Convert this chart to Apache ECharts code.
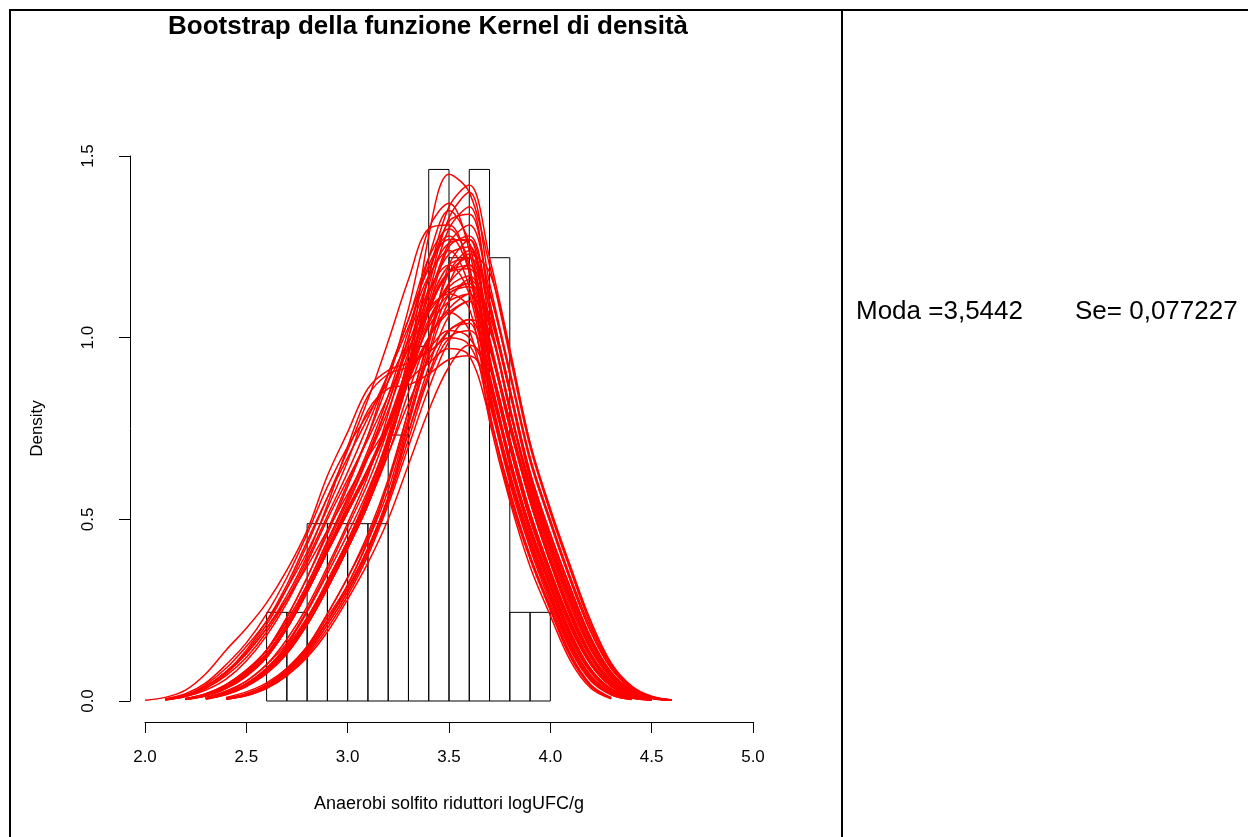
<!DOCTYPE html>
<html>
<head>
<meta charset="utf-8">
<script src="https://cdn.jsdelivr.net/npm/echarts@6/dist/echarts.min.js"></script>
<style>
  html, body { margin: 0; padding: 0; background: #fff; }
  #chart { width: 1248px; height: 837px; }
</style>
</head>
<body>
<div id="chart"></div>
<script>
// histogram: bin starts (width 0.1) and densities
const binStarts = [2.6, 2.7, 2.8, 2.9, 3.0, 3.1, 3.2, 3.3, 3.4, 3.5, 3.6, 3.7, 3.8, 3.9];
const binWidth = 0.1;
const densities = [0.244, 0.244, 0.488, 0.488, 0.488, 0.488, 0.732, 0.976, 1.463, 1.22, 1.463, 1.22, 0.244, 0.244];

// x positions where the bootstrap curves are read
const gridX = [2.0, 2.1, 2.2, 2.3, 2.4, 2.5, 2.6, 2.7, 2.8, 2.9, 3.0, 3.1, 3.2, 3.3,
  3.4, 3.5, 3.6, 3.7, 3.8, 3.9, 4.0, 4.1, 4.2, 4.3, 4.4, 4.5, 4.6];

// bootstrap kernel density curves (null = not drawn)
const bootCurves = [
  [null,null,0.005,0.015,0.035,0.07,0.12,0.2,0.3,0.42,0.52,0.63,0.76,0.92,1.08, 1.18,1.19, 0.98,0.76,0.55,0.385,0.24,0.125,0.054,0.02,0.006,null],
  [null,null,null,0.008,0.022,0.045,0.085,0.14,0.22,0.32,0.43,0.55,0.7,0.89,1.08, 1.25,1.28, 1.08,0.85,0.62,0.45,0.3,0.17,0.077,0.03,0.009,0.002],
  [null,0.004,0.015,0.04,0.08,0.14,0.22,0.32,0.44,0.56,0.67,0.78,0.9,1.03,1.17, 1.24,1.14, 0.88,0.66,0.47,0.32,0.18,0.083,0.031,0.01,0.003,null],
  [null,null,null,0.008,0.022,0.045,0.085,0.14,0.22,0.33,0.44,0.57,0.73,0.95,1.17, 1.32,1.34, 1.1,0.86,0.62,0.44,0.29,0.16,0.072,0.028,0.008,0.002],
  [null,null,null,0.005,0.018,0.04,0.08,0.14,0.22,0.32,0.43,0.55,0.7,0.92,1.28, 1.45,1.4, 1.2,0.95,0.7,0.52,0.36,0.21,0.1,0.04,0.012,0.003],
  [null,null,0.006,0.017,0.04,0.08,0.14,0.23,0.34,0.47,0.6,0.73,0.88,1.08,1.3, 1.37,1.24, 0.93,0.7,0.5,0.34,0.2,0.1,0.04,0.013,0.003,null],
  [0.002,0.01,0.03,0.075,0.14,0.2,0.27,0.36,0.47,0.62,0.74,0.86,0.91,0.93,0.96, 1.0,0.98, 0.83,0.61,0.43,0.284,0.15,0.061,0.02,0.005,null,null],
  [null,0.003,0.015,0.045,0.09,0.15,0.22,0.31,0.41,0.53,0.66,0.8,0.86,0.87,0.9, 0.94,0.95, 0.87,0.65,0.46,0.31,0.17,0.078,0.028,0.008,0.002,null],
  [null,null,null,null,0.006,0.018,0.04,0.08,0.14,0.22,0.31,0.42,0.56,0.74,0.92, 1.06,1.1, 0.93,0.71,0.51,0.35,0.21,0.104,0.043,0.015,0.004,null],
  [null,null,null,null,0.005,0.015,0.035,0.07,0.12,0.19,0.28,0.38,0.5,0.65,0.8, 0.92,0.98, 0.92,0.72,0.52,0.36,0.215,0.108,0.045,0.016,0.004,null],
  [null,null,0.006,0.02,0.045,0.085,0.14,0.22,0.32,0.44,0.56,0.69,0.84,1.02,1.2, 1.28,1.18, 0.84,0.6,0.42,0.27,0.14,0.055,0.017,0.004,null,null],
  [null,0.004,0.012,0.03,0.06,0.11,0.18,0.27,0.38,0.5,0.61,0.72,0.84,0.97,1.07, 1.13,1.15, 1.03,0.8,0.59,0.42,0.27,0.146,0.066,0.025,0.008,0.002],
  [null,null,null,0.01,0.028,0.055,0.1,0.16,0.25,0.36,0.48,0.6,0.75,0.93,1.09, 1.2,1.22, 0.99,0.77,0.56,0.39,0.245,0.13,0.057,0.021,0.006,null],
  [null,null,null,0.007,0.02,0.042,0.08,0.13,0.21,0.31,0.42,0.54,0.7,0.9,1.1, 1.26,1.31, 1.13,0.9,0.66,0.49,0.33,0.19,0.089,0.035,0.011,0.003],
  [null,null,0.005,0.016,0.037,0.072,0.125,0.2,0.3,0.41,0.52,0.63,0.76,0.91,1.05, 1.14,1.17, 1.04,0.81,0.59,0.43,0.28,0.15,0.068,0.026,0.008,0.002],
  [null,null,null,null,0.007,0.02,0.045,0.09,0.15,0.24,0.34,0.46,0.61,0.8,1.0, 1.18,1.24, 1.08,0.86,0.63,0.46,0.31,0.175,0.08,0.031,0.009,0.002],
  [null,null,0.006,0.018,0.042,0.08,0.14,0.23,0.34,0.46,0.59,0.73,0.9,1.05,1.22, 1.3,1.2, 0.8,0.58,0.4,0.26,0.13,0.045,0.01,null,null,null],
  [null,null,0.005,0.015,0.035,0.07,0.125,0.2,0.3,0.41,0.52,0.63,0.75,0.88,1.0, 1.07,1.1, 0.97,0.75,0.55,0.38,0.235,0.12,0.052,0.019,0.005,null],
  [null,null,null,0.006,0.018,0.04,0.075,0.13,0.21,0.31,0.42,0.54,0.7,0.9,1.14, 1.33,1.4, 1.15,0.91,0.67,0.49,0.33,0.19,0.09,0.036,0.011,0.003],
  [null,null,null,0.008,0.024,0.048,0.09,0.15,0.23,0.33,0.44,0.55,0.68,0.82,0.94, 1.02,1.05, 0.89,0.67,0.48,0.33,0.19,0.088,0.034,0.011,0.003,null],
  [null,null,null,0.008,0.025,0.055,0.1,0.17,0.26,0.37,0.49,0.62,0.79,1.0,1.22, 1.35,1.26, 0.94,0.7,0.5,0.345,0.205,0.1,0.041,0.014,0.004,null],
  [null,0.006,0.02,0.05,0.1,0.16,0.24,0.34,0.46,0.59,0.7,0.79,0.88,0.99,1.08, 1.12,1.08, 0.82,0.62,0.44,0.29,0.155,0.065,0.022,0.005,null,null],
  [null,null,null,null,0.01,0.025,0.05,0.09,0.15,0.24,0.34,0.45,0.6,0.8,0.99, 1.15,1.23, 1.18,0.96,0.71,0.53,0.37,0.22,0.105,0.042,0.013,0.003],
  [null,null,0.004,0.014,0.034,0.068,0.12,0.2,0.3,0.42,0.54,0.67,0.82,1.0,1.16, 1.26,1.27, 1.05,0.81,0.58,0.41,0.26,0.14,0.063,0.024,0.007,0.002],
  [null,0.004,0.015,0.04,0.08,0.13,0.2,0.28,0.37,0.47,0.57,0.67,0.76,0.88,0.93, 0.97,0.95, 0.78,0.56,0.39,0.25,0.12,0.04,0.008,null,null,null],
  [null,null,0.007,0.02,0.045,0.085,0.14,0.22,0.32,0.44,0.56,0.68,0.82,0.98,1.13, 1.2,1.12, 0.85,0.62,0.43,0.28,0.145,0.058,0.018,0.004,null,null],
  [null,null,null,0.007,0.02,0.042,0.08,0.135,0.21,0.31,0.42,0.54,0.7,0.9,1.12, 1.3,1.36, 1.1,0.85,0.61,0.44,0.29,0.165,0.075,0.029,0.008,0.002],
  [null,null,null,null,0.006,0.018,0.04,0.08,0.14,0.22,0.31,0.42,0.56,0.74,0.9, 1.02,1.04, 0.77,0.55,0.37,0.235,0.11,0.035,0.006,null,null,null],
  [null,null,0.006,0.018,0.04,0.075,0.13,0.21,0.31,0.43,0.55,0.67,0.8,0.96,1.12, 1.23,1.25, 1.0,0.77,0.56,0.39,0.24,0.125,0.055,0.02,0.006,null],
  [null,0.003,0.012,0.035,0.075,0.13,0.2,0.29,0.4,0.54,0.7,0.84,0.9,0.92,0.97, 1.02,1.0, 0.88,0.65,0.47,0.315,0.175,0.08,0.03,0.009,0.002,null],
  [null,null,null,null,0.006,0.018,0.04,0.078,0.135,0.21,0.3,0.41,0.56,0.76,0.96, 1.12,1.14, 0.9,0.67,0.47,0.32,0.18,0.085,0.032,0.01,0.003,null],
  [null,0.004,0.014,0.035,0.07,0.12,0.19,0.28,0.39,0.51,0.63,0.76,0.9,1.05,1.19, 1.27,1.26, 0.99,0.76,0.55,0.38,0.23,0.118,0.05,0.018,0.005,null],
  [null,null,0.005,0.016,0.038,0.075,0.13,0.21,0.31,0.42,0.53,0.64,0.76,0.89,1.0, 1.07,1.02, 0.79,0.57,0.4,0.255,0.125,0.042,0.008,null,null,null],
  [null,null,null,0.006,0.02,0.045,0.085,0.14,0.22,0.33,0.44,0.57,0.72,0.92,1.17, 1.36,1.42, 1.22,0.97,0.71,0.52,0.36,0.21,0.1,0.04,0.012,0.003],
  [null,null,null,0.008,0.022,0.045,0.085,0.14,0.22,0.32,0.43,0.55,0.7,0.88,1.04, 1.12,1.15, 0.94,0.72,0.52,0.36,0.22,0.11,0.047,0.016,0.004,null],
  [null,null,0.005,0.016,0.038,0.075,0.13,0.21,0.31,0.42,0.53,0.64,0.77,0.93,1.08, 1.18,1.22, 1.12,0.9,0.67,0.5,0.34,0.2,0.094,0.037,0.011,0.003],
  [null,null,null,null,0.005,0.015,0.035,0.07,0.125,0.2,0.29,0.4,0.54,0.7,0.86, 0.99,1.05, 1.02,0.8,0.6,0.43,0.28,0.152,0.07,0.027,0.008,0.002],
  [null,0.005,0.016,0.04,0.08,0.135,0.21,0.31,0.43,0.56,0.69,0.83,0.99,1.16,1.3, 1.31,1.18, 0.84,0.61,0.44,0.295,0.16,0.068,0.024,0.006,null,null],
  [null,null,null,0.007,0.022,0.048,0.09,0.155,0.245,0.35,0.46,0.58,0.72,0.88,1.04, 1.15,1.2, 1.04,0.8,0.58,0.42,0.27,0.145,0.065,0.025,0.008,0.002],
  [null,null,0.005,0.015,0.036,0.07,0.125,0.2,0.3,0.41,0.52,0.63,0.76,0.9,1.03, 1.1,1.12, 0.87,0.66,0.48,0.33,0.185,0.086,0.033,0.011,0.003,null],
  [null,null,null,null,0.007,0.02,0.044,0.085,0.145,0.23,0.32,0.44,0.58,0.77,0.95, 1.1,1.16, 1.06,0.85,0.63,0.46,0.31,0.172,0.079,0.031,0.009,0.002],
  [null,null,null,0.007,0.021,0.044,0.082,0.135,0.21,0.31,0.42,0.54,0.68,0.85,1.0, 1.08,1.12, 0.98,0.77,0.57,0.4,0.25,0.13,0.058,0.022,0.006,null],
  [null,null,null,null,0.006,0.018,0.04,0.08,0.14,0.22,0.32,0.44,0.6,0.78,0.98, 1.2,1.27, 0.95,0.72,0.51,0.35,0.205,0.1,0.04,0.013,0.003,null],
  [null,null,null,0.008,0.023,0.047,0.088,0.145,0.225,0.33,0.44,0.56,0.71,0.89,1.07, 1.18,1.2, 0.86,0.63,0.45,0.3,0.162,0.07,0.025,0.006,null,null],
  [null,null,null,null,0.005,0.016,0.037,0.075,0.13,0.21,0.3,0.41,0.55,0.72,0.89, 1.0,1.02, 0.92,0.7,0.5,0.35,0.21,0.106,0.044,0.015,0.004,null]
];

const xTicks = [2.0, 5.0, 0.5];   // min, max, step
const yTicks = [0.0, 1.5, 0.5];

const chart = echarts.init(document.getElementById('chart'));

const font = 'Liberation Sans, Arial, sans-serif';

const curveSeries = bootCurves.map(c => ({
  type: 'line',
  data: gridX.map((x, i) => [x, c[i]]).filter(p => p[1] !== null),
  smooth: 0.35,
  showSymbol: false,
  silent: true,
  lineStyle: { color: '#ff0000', width: 1.5 },
  z: 3
}));

const option = {
  animation: false,
  backgroundColor: '#fff',
  grid: { left: 145, right: 495, top: 156, bottom: 136 },
  xAxis: {
    type: 'value',
    min: xTicks[0], max: xTicks[1], interval: xTicks[2],
    offset: 21,
    name: 'Anaerobi solfito riduttori logUFC/g',
    nameLocation: 'middle',
    nameGap: 73,
    nameTextStyle: { fontFamily: font, fontSize: 18, color: '#000' },
    axisLine: { onZero: false, lineStyle: { color: '#000', width: 1 } },
    axisTick: { length: 11, lineStyle: { color: '#000' } },
    axisLabel: { fontFamily: font, fontSize: 17, color: '#000', margin: 27,
      formatter: v => v.toFixed(1) },
    splitLine: { show: false }
  },
  yAxis: {
    type: 'value',
    min: yTicks[0], max: yTicks[1], interval: yTicks[2],
    offset: 15,
    name: 'Density',
    nameLocation: 'middle',
    nameGap: 84,
    nameTextStyle: { fontFamily: font, fontSize: 17, color: '#000' },
    axisLine: { show: true, onZero: false, lineStyle: { color: '#000', width: 1 } },
    axisTick: { show: true, length: 11, lineStyle: { color: '#000' } },
    axisLabel: { fontFamily: font, fontSize: 17, color: '#000', rotate: 90, margin: 33,
      formatter: v => v.toFixed(1) },
    splitLine: { show: false }
  },
  graphic: [
    { type: 'rect', shape: { x: 10, y: 10, width: 1250, height: 840 },
      style: { fill: 'none', stroke: '#000', lineWidth: 2 }, silent: true },
    { type: 'line', shape: { x1: 842, y1: 10, x2: 842, y2: 837 },
      style: { stroke: '#000', lineWidth: 2 }, silent: true },
    { type: 'text', x: 428, y: 14,
      style: { text: 'Bootstrap della funzione Kernel di densità', fontFamily: font,
        fontWeight: 'bold', fontSize: 26, fill: '#000',
        align: 'center', textAlign: 'center', verticalAlign: 'top' } },
    { type: 'text', left: 856, top: 299,
      style: { text: 'Moda =3,5442', fontFamily: font, fontSize: 26, fill: '#000' } },
    { type: 'text', left: 1075, top: 299,
      style: { text: 'Se= 0,077227', fontFamily: font, fontSize: 26, fill: '#000' } }
  ],
  series: [
    {
      type: 'custom',
      silent: true,
      z: 2,
      data: binStarts.map((b, i) => [b, b + binWidth, densities[i]]),
      renderItem: (params, api) => {
        const p0 = api.coord([api.value(0), api.value(2)]);
        const p1 = api.coord([api.value(1), 0]);
        return {
          type: 'rect',
          shape: { x: p0[0], y: p0[1], width: p1[0] - p0[0], height: p1[1] - p0[1] },
          style: { fill: 'none', stroke: '#000', lineWidth: 1 }
        };
      }
    }
  ].concat(curveSeries)
};

chart.setOption(option);
</script>
</body>
</html>
